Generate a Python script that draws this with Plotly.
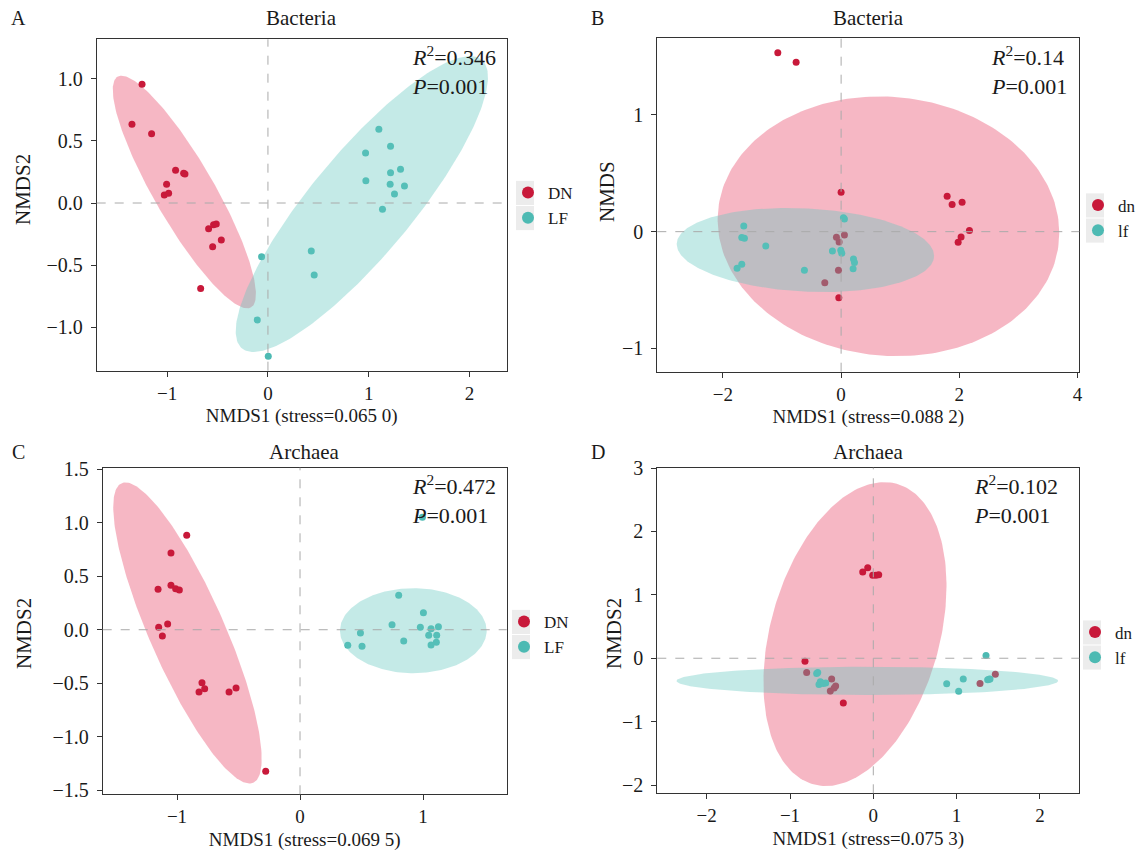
import numpy as np
import plotly.graph_objects as go

W, H = 1143, 866

# ---------------- data ----------------
# Panel A - Bacteria
A_DN_x = [-1.25, -1.35, -1.155, -0.917, -0.837, -0.824, -1.006, -1.029, -0.986, -0.589, -0.540, -0.513, -0.463, -0.549, -0.668]
A_DN_y = [0.955, 0.633, 0.558, 0.263, 0.239, 0.234, 0.150, 0.064, 0.078, -0.207, -0.174, -0.169, -0.298, -0.351, -0.687]
A_LF_x = [1.101, 1.217, 0.969, 1.316, 1.217, 0.972, 1.213, 1.355, 1.256, 1.137, 0.430, 0.459, -0.063, -0.106, 0.003]
A_LF_y = [0.593, 0.456, 0.402, 0.271, 0.244, 0.179, 0.150, 0.137, 0.072, -0.051, -0.386, -0.579, -0.432, -0.941, -1.233]

# Panel B - Bacteria
B_DN_x = [-1.071, -0.761, 0.0, 1.794, 1.878, 2.047, 2.171, 2.030, 1.980, 0.056, -0.079, -0.034, -0.045, -0.276, -0.039]
B_DN_y = [1.534, 1.451, 0.337, 0.303, 0.232, 0.252, 0.009, -0.045, -0.091, -0.028, -0.048, -0.088, -0.331, -0.437, -0.566]
B_LF_x = [-1.647, -1.681, -1.636, -1.275, -1.681, -1.760, -0.621, 0.039, 0.056, -0.147, -0.006, 0.011, 0.209, 0.226, 0.203]
B_LF_y = [0.049, -0.051, -0.057, -0.123, -0.280, -0.314, -0.331, 0.120, 0.109, -0.165, -0.160, -0.185, -0.234, -0.265, -0.317]

# Panel C - Archaea
C_DN_x = [-0.921, -1.049, -1.049, -1.011, -0.981, -1.154, -1.076, -1.149, -1.119, -0.797, -0.775, -0.821, -0.577, -0.520, -0.279]
C_DN_y = [0.882, 0.717, 0.415, 0.383, 0.371, 0.377, 0.053, 0.022, -0.059, -0.495, -0.551, -0.582, -0.582, -0.545, -1.323]
C_LF_x = [0.995, 0.802, 1.003, 0.748, 0.978, 1.065, 1.125, 1.046, 1.111, 0.843, 1.108, 1.065, 0.491, 0.388, 0.504]
C_LF_y = [1.050, 0.321, 0.159, 0.047, 0.022, 0.009, 0.028, -0.052, -0.052, -0.106, -0.118, -0.143, -0.031, -0.146, -0.155]

# Panel D - Archaea
D_DN_x = [-0.127, -0.067, -0.007, 0.032, 0.065, -0.820, -0.800, -0.500, -0.452, -0.516, -0.360, 1.281, 1.465, -0.470]
D_DN_y = [1.359, 1.428, 1.307, 1.307, 1.318, -0.047, -0.225, -0.326, -0.436, -0.515, -0.704, -0.399, -0.252, -0.470]
D_LF_x = [1.353, 1.080, 0.881, 1.025, 1.373, 1.401, -0.680, -0.628, -0.652, -0.571, -0.636, -0.667, -0.600, 1.390]
D_LF_y = [0.042, -0.326, -0.404, -0.520, -0.341, -0.326, -0.241, -0.383, -0.415, -0.389, -0.370, -0.225, -0.400, -0.330]

# confidence ellipses: centre and two conjugate semi-diameters (data units)
A_DN_ell = dict(c=(-0.830, 0.0885), u=(0.662, -0.928), v=(0.258, 0.121))
A_LF_ell = dict(c=(0.932, -0.008), u=(1.190, 1.161), v=(0.389, -0.262))
B_DN_ell = dict(c=(0.801, 0.046), u=(2.89, -0.057), v=(0.0, 1.111))
B_LF_ell = dict(c=(-0.604, -0.157), u=(2.177, -0.05), v=(0.0, 0.357))
C_DN_ell = dict(c=(-0.915, -0.030), u=(0.535, -1.400), v=(0.279, 0.142))
C_LF_ell = dict(c=(0.921, -0.009), u=(0.596, 0.0), v=(0.0, 0.397))
D_DN_ell = dict(c=(-0.220, 0.381), u=(0.501, 2.370), v=(0.978, -0.356))
D_LF_ell = dict(c=(-0.072, -0.357), u=(2.291, 0.0), v=(0.0, 0.223))

panel_titles = ["Bacteria", "Bacteria", "Archaea", "Archaea"]
panel_letters = ["A", "B", "C", "D"]
group_names = [("DN", "LF"), ("dn", "lf"), ("DN", "LF"), ("dn", "lf")]
r2_values = ["0.346", "0.14", "0.472", "0.102"]
p_values = ["0.001", "0.001", "0.001", "0.001"]
x_titles = ["NMDS1 (stress=0.065 0)", "NMDS1 (stress=0.088 2)",
            "NMDS1 (stress=0.069 5)", "NMDS1 (stress=0.075 3)"]
y_titles = ["NMDS2", "NMDS", "NMDS2", "NMDS2"]
x_ticks = [[-1, 0, 1, 2], [-2, 0, 2, 4], [-1, 0, 1], [-2, -1, 0, 1, 2]]
y_ticks = [[-1.0, -0.5, 0.0, 0.5, 1.0], [-1, 0, 1], [-1.5, -1.0, -0.5, 0.0, 0.5, 1.0, 1.5], [-2, -1, 0, 1, 2, 3]]
y_fmt = [".1f", "d", ".1f", "d"]
x_ranges = [[-1.70, 2.37], [-3.11, 4.03], [-1.604, 1.68], [-2.593, 2.473]]
y_ranges = [[-1.349, 1.317], [-1.20, 1.657], [-1.538, 1.514], [-2.13, 3.005]]

# ---------------- layout geometry (pixels) ----------------
plot_px = [  # left, right, top, bottom
    (96.7, 506.7, 39.3, 370.7),
    (657.3, 1079.3, 38.3, 371.7),
    (102.7, 506.7, 467.7, 794.3),
    (657.3, 1079.3, 467.7, 793.3),
]
legend_dot_px = [(525, 205.5), (1095, 218), (521, 634.5), (1092, 645)]
stat_px = [(410, 39.5), (989, 39.5), (410, 468.5), (972, 468.5)]
title_y_px = [18, 18, 452, 452]
letter_x_px = [18, 598, 18, 598]
ytitle_px = [(23, 190), (607, 192), (24, 634), (614, 634)]

RED = "#C8193A"
TEAL = "#4DBAB3"
PINK_FILL = "rgba(230,60,95,0.37)"
TEAL_FILL = "rgba(100,200,192,0.38)"
KEY_BG = "#ECECEC"
SERIF = "Liberation Serif, Times New Roman, serif"
INK = "#1a1a1a"

data = [
    (A_DN_x, A_DN_y, A_LF_x, A_LF_y, A_DN_ell, A_LF_ell),
    (B_DN_x, B_DN_y, B_LF_x, B_LF_y, B_DN_ell, B_LF_ell),
    (C_DN_x, C_DN_y, C_LF_x, C_LF_y, C_DN_ell, C_LF_ell),
    (D_DN_x, D_DN_y, D_LF_x, D_LF_y, D_DN_ell, D_LF_ell),
]


def ellipse_xy(e, n=240):
    t = np.linspace(0, 2 * np.pi, n)
    x = e["c"][0] + e["u"][0] * np.cos(t) + e["v"][0] * np.sin(t)
    y = e["c"][1] + e["u"][1] * np.cos(t) + e["v"][1] * np.sin(t)
    return x, y


LEG_FONT = 17
LEG_STEP = LEG_FONT * 1.3 + 3  # plotly legend entry height

fig = go.Figure()
shapes = []
annotations = []
layout_axes = {}

for i in range(4):
    dnx, dny, lfx, lfy, e_dn, e_lf = data[i]
    xa = "x" if i == 0 else f"x{i+1}"
    ya = "y" if i == 0 else f"y{i+1}"
    leg = "legend" if i == 0 else f"legend{i+1}"
    n_dn, n_lf = group_names[i]

    # pink ellipse (below points)
    ex, ey = ellipse_xy(e_dn)
    fig.add_trace(go.Scatter(x=ex, y=ey, xaxis=xa, yaxis=ya, mode="lines", fill="toself",
                             fillcolor=PINK_FILL, line=dict(width=0), hoverinfo="skip",
                             showlegend=False))
    fig.add_trace(go.Scatter(x=dnx, y=dny, xaxis=xa, yaxis=ya, mode="markers", name=n_dn,
                             marker=dict(color=RED, size=7), legend=leg))
    fig.add_trace(go.Scatter(x=lfx, y=lfy, xaxis=xa, yaxis=ya, mode="markers", name=n_lf,
                             marker=dict(color=TEAL, size=7), legend=leg))
    # teal ellipse (above points)
    ex, ey = ellipse_xy(e_lf)
    fig.add_trace(go.Scatter(x=ex, y=ey, xaxis=xa, yaxis=ya, mode="lines", fill="toself",
                             fillcolor=TEAL_FILL, line=dict(width=0), hoverinfo="skip",
                             showlegend=False))

    l, r, t, b = plot_px[i]
    xdom = [l / W, r / W]
    ydom = [1 - b / H, 1 - t / H]
    axis_common = dict(showgrid=False, zeroline=False, showline=True, linecolor="#333333",
                       linewidth=1, mirror=True, ticks="outside", ticklen=5, tickcolor="#333333",
                       automargin=False)
    layout_axes["xaxis" if i == 0 else f"xaxis{i+1}"] = dict(
        axis_common, domain=xdom, range=x_ranges[i], tickvals=x_ticks[i],
        tickfont=dict(family=SERIF, size=19, color=INK),
        anchor=ya, title=dict(text=x_titles[i], font=dict(family=SERIF, size=19, color=INK), standoff=6))
    layout_axes["yaxis" if i == 0 else f"yaxis{i+1}"] = dict(
        axis_common, domain=ydom, range=y_ranges[i], tickvals=y_ticks[i], tickformat=y_fmt[i],
        tickfont=dict(family=SERIF, size=20, color=INK), ticklabelstandoff=4, anchor=xa)

    # y-axis title (rotated text placed beside the tick labels)
    tx, ty = ytitle_px[i]
    annotations.append(dict(text=y_titles[i], x=tx / W, y=1 - ty / H, xref="paper", yref="paper",
                            showarrow=False, textangle=-90, xanchor="center", yanchor="middle",
                            font=dict(family=SERIF, size=21, color=INK)))

    # dashed reference lines at 0
    shapes.append(dict(type="line", xref=xa, yref=f"{ya} domain", x0=0, x1=0, y0=0, y1=1,
                       line=dict(color="#aaaaaa", width=1, dash="dash"), layer="above"))
    shapes.append(dict(type="line", xref=f"{xa} domain", yref=ya, x0=0, x1=1, y0=0, y1=0,
                       line=dict(color="#aaaaaa", width=1, dash="dash"), layer="above"))

    # panel title + letter
    annotations.append(dict(text=panel_titles[i], x=(l + r) / 2 / W, y=1 - title_y_px[i] / H,
                            xref="paper", yref="paper", showarrow=False, xanchor="center",
                            yanchor="middle", font=dict(family=SERIF, size=21, color=INK)))
    annotations.append(dict(text=panel_letters[i], x=letter_x_px[i] / W, y=1 - title_y_px[i] / H,
                            xref="paper", yref="paper", showarrow=False, xanchor="center",
                            yanchor="middle", font=dict(family=SERIF, size=20, color=INK)))
    # statistics text
    sx, sy = stat_px[i]
    annotations.append(dict(text=f"<i>R</i><sup>2</sup>=" + r2_values[i] + "<br><i>P</i>=" + p_values[i],
                            x=sx / W, y=1 - sy / H, xref="paper", yref="paper", showarrow=False,
                            xanchor="left", yanchor="top", align="left",
                            font=dict(family=SERIF, size=22, color=INK)))

    # legend (grey key backgrounds like ggplot)
    dx, dy = legend_dot_px[i]
    layout_axes[leg] = dict(x=(dx - 17) / W, y=1 - dy / H, xanchor="left", yanchor="middle",
                            xref="container", yref="container",
                            bgcolor="rgba(0,0,0,0)", font=dict(family=SERIF, size=LEG_FONT, color=INK),
                            itemsizing="constant", tracegroupgap=0)
    for k in (-0.5, 0.5):
        cy = dy + k * LEG_STEP
        shapes.append(dict(type="rect", xref="paper", yref="paper",
                           x0=(dx - 9) / W, x1=(dx + 9) / W,
                           y0=1 - (cy + LEG_STEP / 2 - 0.5) / H, y1=1 - (cy - LEG_STEP / 2 + 0.5) / H,
                           fillcolor=KEY_BG, line=dict(width=0), layer="below"))

fig.update_layout(
    width=W, height=H,
    margin=dict(l=0, r=0, t=0, b=0, autoexpand=False),
    paper_bgcolor="white", plot_bgcolor="white",
    shapes=shapes, annotations=annotations,
    **layout_axes,
)

fig.write_html(
    "out.html",
    config={"displayModeBar": False},
    post_script=(
        "document.documentElement.style.margin='0';"
        "document.body.style.margin='0';document.body.style.overflow='hidden';"
        "var gd=document.querySelector('.plotly-graph-div');"
        "gd.style.position='fixed';gd.style.left='0px';gd.style.top='0px';"
    ),
)
